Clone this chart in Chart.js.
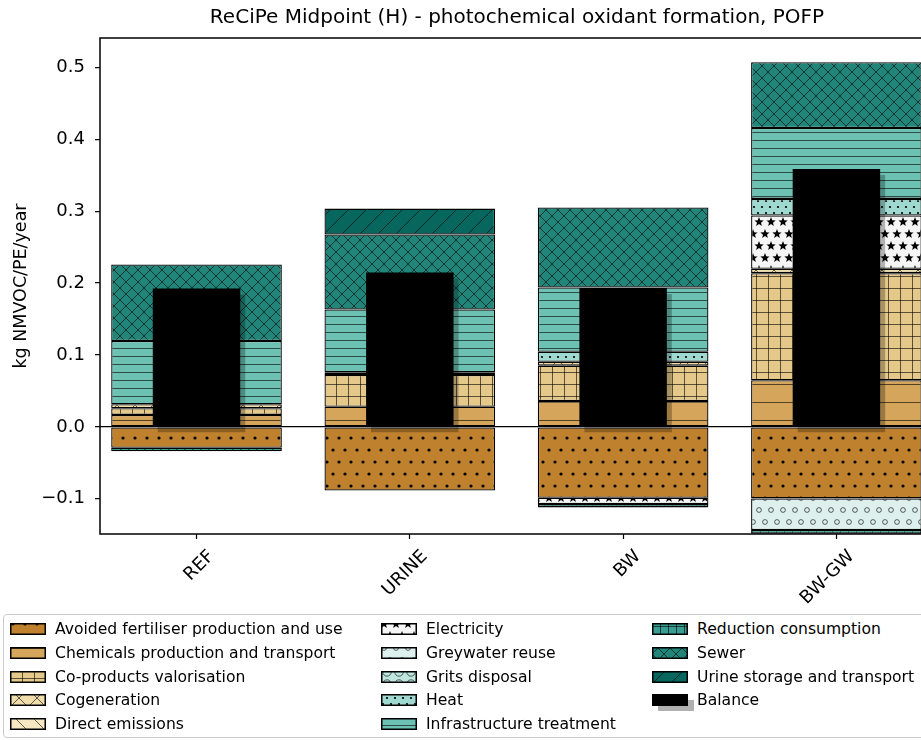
<!DOCTYPE html>
<html>
<head>
<meta charset="utf-8">
<title>ReCiPe Midpoint (H) - POFP</title>
<script src="https://cdn.jsdelivr.net/npm/chart.js@4.4.1/dist/chart.umd.min.js"></script>
<style>
    html, body { margin: 0; padding: 0; background: #fff; width: 921px; height: 740px; overflow: hidden; }
    #wrap { position: absolute; left: 0; top: 0; width: 934px; height: 610px; }
    #legend { position: absolute; left: 3px; top: 614px; width: 940px; height: 124px; box-sizing: border-box;
              border: 1px solid #cccccc; border-radius: 4px; background: #fff;
              font-family: 'DejaVu Sans', sans-serif; font-size: 15.6px; color: #000; }
    .item { position: absolute; height: 22px; display: flex; align-items: center; white-space: nowrap; }
    .item canvas { margin-right: 3px; }
</style>
</head>
<body>
<div id="wrap"><canvas id="pofpChart" width="934" height="610"></canvas></div>
<div id="legend"></div>
<script>
// Scenarios (x axis)
const categories = ['REF', 'URINE', 'BW', 'BW-GW'];
const xPositions = [0, 1, 2, 3];

// Contributions, kg NMVOC/PE/year
const avoidedFertiliser   = [-0.0290, -0.0885, -0.0986, -0.0995];
const chemicals           = [0.0167, 0.0280, 0.0361, 0.0648];
const coProducts          = [0.0093, 0.0442, 0.0491, 0.1491];
const cogeneration        = [0.0055, 0.0037, 0.0055, 0.0060];
const directEmissions     = [0, 0, 0, 0];
const electricity         = [0, 0, -0.0088, 0.0741];
const greywaterReuse      = [0, 0, 0, -0.0440];
const gritsDisposal       = [0, 0, 0, 0];
const heat                = [0, 0, 0.0139, 0.0232];
const infrastructure      = [0.0880, 0.0875, 0.0894, 0.0986];
const reductionConsump    = [-0.0050, 0, -0.0046, -0.0050];
const sewer               = [0.1065, 0.1042, 0.1111, 0.0916];
const urineStorage        = [0, 0.0361, 0, 0];
const balance             = [0.1925, 0.2148, 0.1931, 0.3589];

// y axis ticks
const yTicks = [-0.1, 0.0, 0.1, 0.2, 0.3, 0.4, 0.5];

// label, values, fill colour, hatch
const seriesDefs = [
    ['Avoided fertiliser production and use', avoidedFertiliser, '#bf812d', 'dots'],
    ['Chemicals production and transport', chemicals, '#d4a55b', 'hline18'],
    ['Co-products valorisation', coProducts, '#e4c98a', 'grid12'],
    ['Cogeneration', cogeneration, '#efdcab', 'cross18'],
    ['Direct emissions', directEmissions, '#f6e8c3', 'back18'],
    ['Electricity', electricity, '#f5f5f5', 'stars'],
    ['Greywater reuse', greywaterReuse, '#ddf0ed', 'rings'],
    ['Grits disposal', gritsDisposal, '#bfe5df', 'bigrings'],
    ['Heat', heat, '#9fd9cf', 'fine'],
    ['Infrastructure treatment', infrastructure, '#6cc1b3', 'hline8'],
    ['Reduction consumption', reductionConsump, '#3b9c91', 'grid8'],
    ['Sewer', sewer, '#22857a', 'cross12'],
    ['Urine storage and transport', urineStorage, '#07675e', 'diag18']
];

// Build a small repeating tile with a matplotlib-like hatch
const makeTile = (bg, hatch) => {
    const sizes = {
        dots: [12, 24], fine: [8, 12], hline18: [8, 18], hline8: [8, 8], diag18: [18, 18],
        back18: [18, 18], cross12: [12, 12], cross18: [18, 18], grid12: [12, 12], grid8: [8, 8],
        stars: [12, 24], rings: [12, 24], bigrings: [12, 12]
    };
    const [w, h] = sizes[hatch] || [8, 8];
    const c = document.createElement('canvas');
    c.width = w; c.height = h;
    const g = c.getContext('2d');
    g.fillStyle = bg;
    g.fillRect(0, 0, w, h);
    g.strokeStyle = 'rgba(0,0,0,0.6)';
    g.fillStyle = '#000';
    g.lineWidth = 1;
    const wrap = (pts, fn) => pts.forEach(([px, py]) => {
        for (const dx of [-w, 0, w]) for (const dy of [-h, 0, h]) fn(px + dx, py + dy);
    });
    const diag = (s, back) => {
        g.beginPath();
        for (const k of [-1, 0, 1]) {
            if (back) { g.moveTo(k * s, 0); g.lineTo(k * s + s, s); }
            else { g.moveTo(k * s, s); g.lineTo(k * s + s, 0); }
        }
        g.stroke();
    };
    switch (hatch) {
        case 'dots':
            wrap([[3, 6], [9, 18]], (x, y) => { g.beginPath(); g.arc(x, y, 1.6, 0, Math.PI * 2); g.fill(); });
            break;
        case 'fine':
            wrap([[2, 3], [6, 9]], (x, y) => { g.beginPath(); g.arc(x, y, 1.1, 0, Math.PI * 2); g.fill(); });
            break;
        case 'hline18':
            g.beginPath(); g.moveTo(0, 6.5); g.lineTo(w, 6.5); g.stroke();
            break;
        case 'hline8':
            g.beginPath(); g.moveTo(0, 4.5); g.lineTo(w, 4.5); g.stroke();
            break;
        case 'diag18': diag(18, false); break;
        case 'back18': diag(18, true); break;
        case 'cross12': diag(12, false); diag(12, true); break;
        case 'cross18': diag(18, false); diag(18, true); break;
        case 'grid12':
        case 'grid8':
            g.beginPath(); g.moveTo(0.5, 0); g.lineTo(0.5, h); g.moveTo(0, 0.5); g.lineTo(w, 0.5); g.stroke();
            break;
        case 'stars':
            wrap([[3, 6], [9, 18]], (x, y) => {
                g.beginPath();
                for (let i = 0; i < 10; i++) {
                    const r = i % 2 ? 2.1 : 4.9;
                    const a = -Math.PI / 2 + i * Math.PI / 5;
                    g.lineTo(x + r * Math.cos(a), y + r * Math.sin(a));
                }
                g.closePath(); g.fill();
            });
            break;
        case 'rings':
            wrap([[3, 6], [9, 18]], (x, y) => { g.beginPath(); g.arc(x, y, 2.4, 0, Math.PI * 2); g.stroke(); });
            break;
        case 'bigrings':
            wrap([[6, 6]], (x, y) => { g.beginPath(); g.arc(x, y, 4.2, 0, Math.PI * 2); g.stroke(); });
            break;
    }
    return c;
};

const ctx = document.getElementById('pofpChart').getContext('2d');

// Contribution bars all share one stack; grouped:false keeps every bar centred on its tick
const datasets = seriesDefs.map(([label, values, color, hatch]) => ({
    label: label,
    data: values.map((v, i) => ({ x: xPositions[i], y: v })),
    backgroundColor: ctx.createPattern(makeTile(color, hatch), 'repeat'),
    borderColor: '#000',
    borderWidth: 1.3,
    borderSkipped: false,
    stack: 'contrib',
    grouped: false,
    order: 1,
    categoryPercentage: 1,
    barPercentage: 0.8,
    tileColor: color,
    hatch: hatch
}));

datasets.push({
    label: 'Balance',
    data: balance.map((v, i) => ({ x: xPositions[i], y: v })),
    backgroundColor: '#000',
    borderWidth: 0,
    stack: 'balance',
    grouped: false,
    order: 0,
    categoryPercentage: 1,
    barPercentage: 0.41
});

// Drop shadow under the balance bars
const balanceShadow = {
    id: 'balanceShadow',
    beforeDatasetDraw(chart, args) {
        if (chart.data.datasets[args.index].label !== 'Balance') return;
        const { ctx, chartArea } = chart;
        ctx.save();
        ctx.beginPath();
        ctx.rect(chartArea.left, chartArea.top, chartArea.width, chartArea.height);
        ctx.clip();
        ctx.fillStyle = 'rgba(0,0,0,0.27)';
        args.meta.data.forEach(bar => {
            const p = bar.getProps(['x', 'y', 'base', 'width'], true);
            ctx.fillRect(p.x - p.width / 2 + 5, Math.min(p.y, p.base) + 6, p.width, Math.abs(p.base - p.y));
        });
        ctx.restore();
    }
};

// Axes frame (matplotlib spines)
const frame = {
    id: 'frame',
    afterDatasetsDraw(chart) {
        const { ctx, chartArea } = chart;
        ctx.save();
        ctx.strokeStyle = '#000';
        ctx.lineWidth = 1.5;
        ctx.strokeRect(chartArea.left, chartArea.top, chartArea.width, chartArea.height);
        ctx.restore();
    }
};

Chart.defaults.font.family = "'DejaVu Sans', sans-serif";
Chart.defaults.color = '#000';

const pofpChart = new Chart(ctx, {
    type: 'bar',
    data: { datasets: datasets },
    plugins: [balanceShadow, frame],
    options: {
        responsive: false,
        animation: false,
        layout: { padding: { left: 0, right: 0, top: 0, bottom: 0 } },
        plugins: {
            legend: { display: false },
            tooltip: { enabled: false },
            title: {
                display: true,
                fullSize: false,
                text: 'ReCiPe Midpoint (H) - photochemical oxidant formation, POFP',
                font: { size: 20, weight: 'normal' },
                padding: { top: 6, bottom: 8 }
            }
        },
        scales: {
            x: {
                type: 'linear',
                min: -0.4525,
                max: 3.4575,
                offset: false,
                stacked: true,
                afterBuildTicks: s => { s.ticks = xPositions.map(v => ({ value: v })); },
                afterFit: s => { s.height = 76; },
                border: { display: false },
                grid: { offset: false, drawOnChartArea: false, tickLength: 5, tickColor: '#000', tickWidth: 1.2 },
                ticks: {
                    callback: v => categories[v] ?? '',
                    minRotation: 45,
                    maxRotation: 45,
                    labelOffset: 15,
                    padding: 7,
                    font: { size: 18 }
                }
            },
            y: {
                min: -0.149,
                max: 0.541,
                stacked: true,
                afterBuildTicks: s => { s.ticks = yTicks.map(v => ({ value: v })); },
                afterFit: s => { s.width = 100; },
                border: { display: false },
                grid: {
                    color: c => (c.tick && Math.abs(c.tick.value) < 1e-9 ? '#000' : 'rgba(0,0,0,0)'),
                    lineWidth: 1.3,
                    tickColor: '#000',
                    tickWidth: 1.2,
                    tickLength: 5
                },
                ticks: {
                    callback: v => (v < -1e-9 ? '\u2212' : '') + Math.abs(v).toFixed(1),
                    padding: 10,
                    font: { size: 18 }
                },
                title: {
                    display: true,
                    text: 'kg NMVOC/PE/year',
                    font: { size: 17.5 },
                    padding: { top: 11, bottom: 0 }
                }
            }
        }
    }
});

// HTML legend in three columns, filled column by column like matplotlib
const buildLegend = chart => {
    const box = document.getElementById('legend');
    const colLeft = [6, 377, 648];
    chart.data.datasets.forEach((ds, i) => {
        const col = Math.floor(i / 5), row = i % 5;
        const item = document.createElement('div');
        item.className = 'item';
        item.style.left = colLeft[col] + 'px';
        item.style.top = (3 + row * 23.75) + 'px';
        const sw = document.createElement('canvas');
        sw.width = 42; sw.height = 22;
        const g = sw.getContext('2d');
        if (ds.label === 'Balance') {
            g.fillStyle = '#b0b0b0';
            g.fillRect(6, 11, 36, 12);
            g.fillStyle = '#000';
            g.fillRect(0, 5, 36, 12);
        } else {
            g.fillStyle = g.createPattern(makeTile(ds.tileColor, ds.hatch), 'repeat');
            g.fillRect(0, 5, 36, 12);
            g.strokeStyle = '#000';
            g.lineWidth = 1.5;
            g.strokeRect(0.75, 5.75, 34.5, 10.5);
        }
        const txt = document.createElement('span');
        txt.textContent = ds.label;
        item.appendChild(sw);
        item.appendChild(txt);
        box.appendChild(item);
    });
};

buildLegend(pofpChart);
</script>
</body>
</html>
